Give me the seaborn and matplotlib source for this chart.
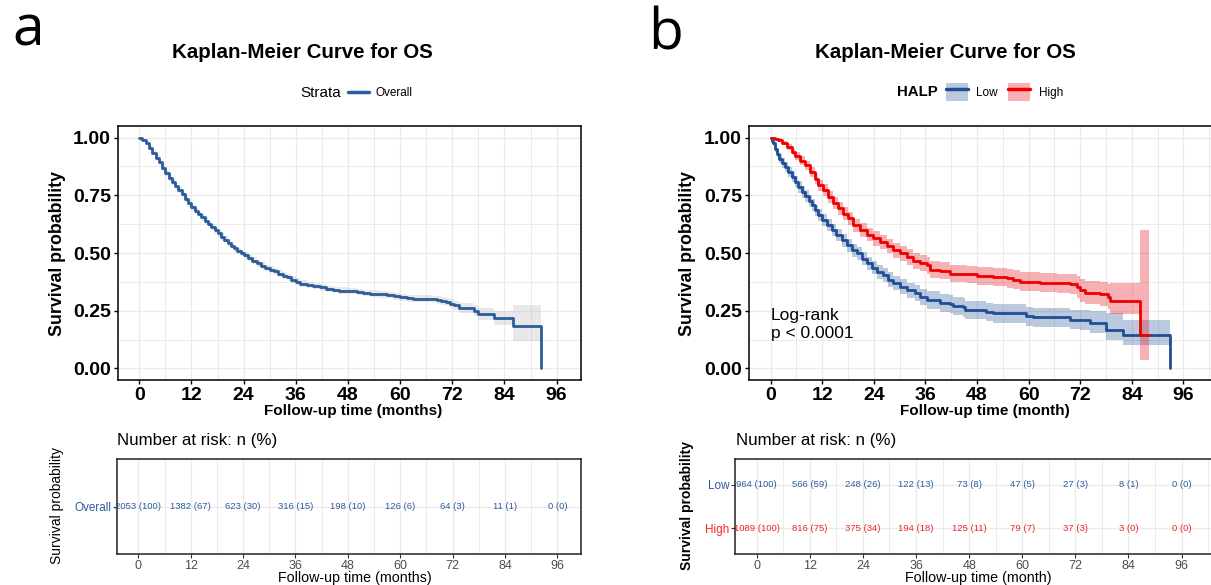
import numpy as np
import pandas as pd
import matplotlib
matplotlib.use("Agg")
import matplotlib.pyplot as plt
import seaborn as sns
from matplotlib.lines import Line2D
from matplotlib.patches import Patch
from matplotlib.legend_handler import HandlerTuple
from matplotlib.ticker import MultipleLocator

# ---------------- data ----------------
# Panel a: overall KM curve (time in months, survival, 95% CI)
a_time = [0, 0.7, 1.5, 2.3, 3.0, 3.8, 4.5, 5.3, 6.0, 6.8, 7.5, 8.3, 9.0, 9.8, 10.5, 11.3,
          12.0, 12.8, 13.5, 14.3, 15.0, 15.8, 16.5, 17.3, 18.0, 18.8, 19.5, 20.3, 21.0, 21.8,
          22.5, 23.3, 24.0, 25.0, 26.0, 27.0, 28.0, 29.0, 30.0, 31.0, 32.0, 33.0, 34.0, 35.0,
          36.0, 37.0, 38.5, 40.0, 41.5, 43.0, 44.5, 46.0, 48.0, 50.0, 51.5, 53.0, 55.0, 57.0,
          58.5, 60.0, 61.5, 63.0, 67.5, 68.5, 69.5, 70.5, 71.5, 72.5, 73.5, 77.0, 78.0, 81.5,
          86.0, 92.5]
a_surv = [1.000, 0.990, 0.975, 0.955, 0.935, 0.912, 0.892, 0.868, 0.845, 0.826, 0.808, 0.790,
          0.772, 0.755, 0.735, 0.715, 0.698, 0.683, 0.668, 0.654, 0.640, 0.626, 0.612, 0.598,
          0.585, 0.571, 0.558, 0.545, 0.532, 0.520, 0.509, 0.499, 0.490, 0.478, 0.467, 0.455,
          0.445, 0.436, 0.428, 0.420, 0.411, 0.402, 0.394, 0.385, 0.376, 0.367, 0.362, 0.357,
          0.351, 0.345, 0.340, 0.337, 0.335, 0.332, 0.327, 0.324, 0.321, 0.317, 0.313, 0.308,
          0.304, 0.301, 0.299, 0.296, 0.292, 0.287, 0.281, 0.274, 0.262, 0.250, 0.237, 0.219,
          0.183, 0.000]
a_lower = [1.000, 0.986, 0.968, 0.946, 0.925, 0.901, 0.880, 0.856, 0.832, 0.813, 0.795, 0.777,
           0.758, 0.741, 0.721, 0.701, 0.684, 0.669, 0.654, 0.640, 0.626, 0.612, 0.598, 0.584,
           0.571, 0.557, 0.544, 0.531, 0.518, 0.506, 0.495, 0.485, 0.476, 0.464, 0.453, 0.441,
           0.431, 0.422, 0.414, 0.406, 0.397, 0.388, 0.380, 0.371, 0.362, 0.353, 0.348, 0.343,
           0.337, 0.331, 0.326, 0.323, 0.321, 0.318, 0.313, 0.310, 0.307, 0.303, 0.298, 0.293,
           0.289, 0.286, 0.283, 0.280, 0.275, 0.269, 0.262, 0.254, 0.240, 0.226, 0.212, 0.190,
           0.120, 0.120]
a_upper = [1.000, 0.994, 0.982, 0.964, 0.945, 0.923, 0.904, 0.880, 0.858, 0.839, 0.821, 0.803,
           0.786, 0.769, 0.749, 0.729, 0.712, 0.697, 0.682, 0.668, 0.654, 0.640, 0.626, 0.612,
           0.599, 0.585, 0.572, 0.559, 0.546, 0.534, 0.523, 0.513, 0.504, 0.492, 0.481, 0.469,
           0.459, 0.450, 0.442, 0.434, 0.425, 0.416, 0.408, 0.399, 0.390, 0.381, 0.376, 0.371,
           0.365, 0.359, 0.354, 0.351, 0.349, 0.346, 0.341, 0.338, 0.335, 0.331, 0.328, 0.323,
           0.319, 0.316, 0.315, 0.312, 0.309, 0.305, 0.300, 0.294, 0.284, 0.274, 0.262, 0.248,
           0.274, 0.274]

# Panel b: HALP Low
low_time = [0, 0.2, 0.6, 1.0, 1.4, 2.0, 2.6, 3.3, 4.1, 4.9, 5.7, 6.4, 7.2, 8.0, 8.8, 9.5,
            10.3, 11.1, 11.9, 13.0, 14.2, 15.3, 16.5, 17.7, 18.8, 20.0, 21.2, 22.3, 23.5, 24.7,
            26.2, 27.4, 28.5, 30.0, 31.6, 33.6, 34.7, 36.3, 39.4, 41.7, 42.5, 44.8, 45.2, 50.2,
            51.8, 59.5, 61.0, 69.6, 72.0, 74.3, 78.1, 82.0, 92.9]
low_surv = [1.000, 0.986, 0.975, 0.952, 0.930, 0.909, 0.890, 0.873, 0.851, 0.830, 0.808, 0.786,
            0.765, 0.746, 0.726, 0.707, 0.685, 0.664, 0.642, 0.620, 0.599, 0.577, 0.556, 0.534,
            0.512, 0.498, 0.476, 0.455, 0.437, 0.418, 0.404, 0.385, 0.371, 0.354, 0.339, 0.328,
            0.310, 0.296, 0.284, 0.277, 0.270, 0.264, 0.253, 0.245, 0.238, 0.227, 0.221, 0.212,
            0.209, 0.195, 0.166, 0.144, 0.000]
low_lower = [1.000, 0.978, 0.965, 0.939, 0.914, 0.891, 0.870, 0.852, 0.829, 0.807, 0.784, 0.762,
             0.740, 0.721, 0.701, 0.682, 0.660, 0.638, 0.616, 0.594, 0.572, 0.550, 0.528, 0.506,
             0.484, 0.469, 0.447, 0.426, 0.407, 0.388, 0.373, 0.354, 0.340, 0.322, 0.306, 0.293,
             0.274, 0.258, 0.245, 0.238, 0.231, 0.225, 0.214, 0.205, 0.198, 0.186, 0.180, 0.171,
             0.166, 0.152, 0.122, 0.100, 0.100]
low_upper = [1.000, 0.994, 0.985, 0.965, 0.946, 0.927, 0.910, 0.894, 0.873, 0.853, 0.832, 0.810,
             0.790, 0.771, 0.751, 0.732, 0.710, 0.690, 0.668, 0.646, 0.626, 0.604, 0.584, 0.562,
             0.540, 0.527, 0.505, 0.484, 0.467, 0.448, 0.435, 0.416, 0.402, 0.386, 0.372, 0.363,
             0.346, 0.334, 0.323, 0.316, 0.309, 0.303, 0.292, 0.285, 0.278, 0.268, 0.262, 0.253,
             0.252, 0.250, 0.238, 0.212, 0.212]

# Panel b: HALP High
high_time = [0, 1.0, 1.8, 2.6, 3.7, 4.9, 5.7, 6.8, 8.0, 9.1, 10.3, 11.1, 12.2, 13.4, 14.6,
             15.7, 16.9, 18.0, 19.2, 20.8, 22.3, 23.9, 25.4, 27.0, 28.5, 30.0, 31.6, 33.2, 34.7,
             36.3, 37.0, 39.4, 41.7, 45.6, 48.0, 51.8, 54.9, 56.4, 58.0, 62.6, 66.5, 69.6, 71.2,
             72.0, 73.1, 76.6, 78.5, 79.0, 86.0, 87.9]
high_surv = [1.000, 0.995, 0.990, 0.977, 0.960, 0.938, 0.920, 0.900, 0.880, 0.850, 0.820, 0.794,
             0.772, 0.743, 0.717, 0.693, 0.671, 0.650, 0.620, 0.599, 0.580, 0.563, 0.548, 0.530,
             0.512, 0.498, 0.483, 0.466, 0.455, 0.447, 0.428, 0.423, 0.411, 0.407, 0.400, 0.397,
             0.390, 0.385, 0.375, 0.371, 0.368, 0.365, 0.354, 0.339, 0.328, 0.322, 0.310, 0.293,
             0.144, 0.144]
high_lower = [1.000, 0.991, 0.984, 0.968, 0.948, 0.924, 0.904, 0.882, 0.860, 0.829, 0.797, 0.770,
              0.747, 0.717, 0.690, 0.665, 0.643, 0.621, 0.591, 0.569, 0.550, 0.532, 0.516, 0.498,
              0.479, 0.465, 0.449, 0.432, 0.420, 0.411, 0.391, 0.386, 0.373, 0.369, 0.361, 0.358,
              0.350, 0.345, 0.334, 0.329, 0.325, 0.321, 0.307, 0.289, 0.278, 0.271, 0.257, 0.235,
              0.036, 0.036]
high_upper = [1.000, 0.999, 0.996, 0.986, 0.972, 0.952, 0.936, 0.918, 0.900, 0.871, 0.843, 0.818,
              0.797, 0.769, 0.744, 0.721, 0.699, 0.679, 0.649, 0.629, 0.610, 0.594, 0.580, 0.562,
              0.545, 0.531, 0.517, 0.500, 0.490, 0.483, 0.465, 0.460, 0.449, 0.445, 0.439, 0.436,
              0.430, 0.425, 0.416, 0.413, 0.411, 0.409, 0.401, 0.389, 0.380, 0.375, 0.366, 0.368,
              0.598, 0.598]

# Risk tables
risk_times = [0, 12, 24, 36, 48, 60, 72, 84, 96]
overall_n = [2053, 1382, 623, 316, 198, 126, 64, 11, 0]
overall_pct = [100, 67, 30, 15, 10, 6, 3, 1, 0]
low_n = [964, 566, 248, 122, 73, 47, 27, 8, 0]
low_pct = [100, 59, 26, 13, 8, 5, 3, 1, 0]
high_n = [1089, 816, 375, 194, 125, 79, 37, 3, 0]
high_pct = [100, 75, 34, 18, 11, 7, 3, 0, 0]

x_ticks = [0, 12, 24, 36, 48, 60, 72, 84, 96]
y_ticks = [0.0, 0.25, 0.5, 0.75, 1.0]
y_ticklabels = ["0.00", "0.25", "0.50", "0.75", "1.00"]

# ---------------- style ----------------
sns.set_theme(style="white")
plt.rcParams['font.family'] = ['Liberation Sans', 'DejaVu Sans']
plt.rcParams['text.color'] = 'black'

C_A = '#2B5C9B'
C_LOW = '#1F4E94'
C_HIGH = '#EE0000'
T_BLUE = '#2F5C9E'
T_RED = '#F0252B'
GRID = '#EBEBEB'

W, H = 1211, 585
fig = plt.figure(figsize=(W / 100, H / 100), dpi=100)


def rect(l, t, r, b):
    return [l / W, 1 - b / H, (r - l) / W, (b - t) / H]


def fx(x):
    return x / W


def fy(y):
    return 1 - y / H


def style_main(ax, xlim):
    ax.set_xlim(*xlim)
    ax.set_ylim(-0.05, 1.05)
    ax.set_xticks(x_ticks)
    ax.set_yticks(y_ticks)
    ax.set_yticklabels(y_ticklabels)
    ax.xaxis.set_minor_locator(MultipleLocator(6))
    ax.yaxis.set_minor_locator(MultipleLocator(0.125))
    ax.grid(which='major', color=GRID, lw=1.0)
    ax.grid(which='minor', color=GRID, lw=0.7)
    ax.set_axisbelow(True)
    for s in ax.spines.values():
        s.set_color('black')
        s.set_linewidth(1.1)
    ax.tick_params(which='major', axis='both', length=3, width=1, color='black',
                   labelsize=14, pad=2, labelcolor='black', bottom=True, left=True)
    ax.tick_params(which='minor', length=0)
    for lab in ax.get_xticklabels() + ax.get_yticklabels():
        lab.set_fontweight('bold')
    ax.set_xlabel('')
    ax.set_ylabel('')


def style_risk(ax, xlim, ylim):
    ax.set_xlim(*xlim)
    ax.set_ylim(*ylim)
    ax.set_xticks(x_ticks)
    ax.xaxis.set_minor_locator(MultipleLocator(6))
    ax.grid(which='major', color=GRID, lw=1.0)
    ax.grid(which='minor', axis='x', color=GRID, lw=0.7)
    ax.set_axisbelow(True)
    for s in ax.spines.values():
        s.set_color('#222222')
        s.set_linewidth(1.1)
    ax.tick_params(which='major', axis='both', length=3, width=0.8, color='#333333',
                   labelsize=9, pad=1, labelcolor='#4D4D4D', bottom=True, left=True)
    ax.tick_params(which='minor', length=0)
    ax.set_xlabel('')
    ax.set_ylabel('')


# ================= Panel a =================
ax_a = fig.add_axes(rect(118, 126, 581, 380))
ax_a.fill_between(a_time, a_lower, a_upper, step='post', color='#B3B3B3', alpha=0.3, lw=0)
df_a = pd.DataFrame({'time': a_time, 'surv': a_surv})
sns.lineplot(data=df_a, x='time', y='surv', ax=ax_a, color=C_A, lw=2.0,
             drawstyle='steps-post', estimator=None, sort=False)
style_main(ax_a, (-4.9, 101.6))

fig.text(fx(57), fy(253), 'Survival probability', rotation=90, ha='center', va='center',
         fontsize=12.8, fontweight='bold')
fig.text(fx(353), fy(411), 'Follow-up time (months)', ha='center', va='center',
         fontsize=11, fontweight='bold')
fig.text(fx(302), fy(52), 'Kaplan-Meier Curve for OS', ha='center', va='center',
         fontsize=14.8, fontweight='bold')
fig.text(fx(12), fy(45), 'a', ha='left', va='baseline', fontsize=41, family='Open Sans')

fig.text(fx(300), fy(93), 'Strata', ha='left', va='center', fontsize=11)
ax_a.legend(handles=[Line2D([], [], color=C_A, lw=2.5)], labels=['Overall'],
            loc='center left', bbox_to_anchor=(fx(348), fy(93)), bbox_transform=fig.transFigure,
            frameon=False, fontsize=8.5, handlelength=1.76, handletextpad=0.55,
            borderpad=0, borderaxespad=0)

# risk table a
ax_ra = fig.add_axes(rect(117, 459, 581, 554))
for t, n, p in zip(risk_times, overall_n, overall_pct):
    ax_ra.text(t, 1, f'{n} ({p})', ha='center', va='center', fontsize=6.8, color=T_BLUE)
style_risk(ax_ra, (-4.88, 101.4), (0.4, 1.6))
ax_ra.set_yticks([1])
ax_ra.set_yticklabels(['Overall'])
for lab in ax_ra.get_yticklabels():
    lab.set_color(T_BLUE)
    lab.set_fontsize(8.5)
fig.text(fx(117), fy(440), 'Number at risk: n (%)', ha='left', va='center', fontsize=12.2)
fig.text(fx(57), fy(506), 'Survival probability', rotation=90, ha='center', va='center',
         fontsize=10)
fig.text(fx(355), fy(585), 'Follow-up time (months)', ha='center', va='bottom', fontsize=10.3)

# ================= Panel b =================
ax_b = fig.add_axes(rect(749, 126, 1213, 380))
ax_b.fill_between(low_time, low_lower, low_upper, step='post', color=C_LOW, alpha=0.3, lw=0)
ax_b.fill_between(high_time, high_lower, high_upper, step='post', color='#E8141C', alpha=0.33, lw=0)
df_b = pd.concat([
    pd.DataFrame({'time': low_time, 'surv': low_surv, 'HALP': 'Low'}),
    pd.DataFrame({'time': high_time, 'surv': high_surv, 'HALP': 'High'}),
], ignore_index=True)
sns.lineplot(data=df_b, x='time', y='surv', hue='HALP', palette={'Low': C_LOW, 'High': C_HIGH},
             ax=ax_b, lw=2.0, drawstyle='steps-post', estimator=None, sort=False, legend=False)
style_main(ax_b, (-5.05, 102.9))
ax_b.text(0, 0.23, 'Log-rank', ha='left', va='center', fontsize=12.5, color='black')
ax_b.text(0, 0.15, 'p < 0.0001', ha='left', va='center', fontsize=12.5, color='black')

fig.text(fx(688), fy(253), 'Survival probability', rotation=90, ha='center', va='center',
         fontsize=12.8, fontweight='bold')
fig.text(fx(985), fy(411), 'Follow-up time (month)', ha='center', va='center',
         fontsize=11, fontweight='bold')
fig.text(fx(945), fy(52), 'Kaplan-Meier Curve for OS', ha='center', va='center',
         fontsize=14.8, fontweight='bold')
fig.text(fx(648), fy(49), 'b', ha='left', va='baseline', fontsize=41, family='Open Sans')

fig.text(fx(897), fy(92), 'HALP', ha='left', va='center', fontsize=10.8, fontweight='bold')
h_low = (Patch(facecolor=C_LOW, alpha=0.3, lw=0), Line2D([], [], color=C_LOW, lw=2.5))
h_high = (Patch(facecolor='#E8141C', alpha=0.33, lw=0), Line2D([], [], color=C_HIGH, lw=2.5))
ax_b.legend(handles=[h_low, h_high], labels=['Low', 'High'], ncol=2,
            handler_map={tuple: HandlerTuple(ndivide=1, pad=0)},
            loc='center left', bbox_to_anchor=(fx(946), fy(92)), bbox_transform=fig.transFigure,
            frameon=False, fontsize=8.5, handlelength=1.86, handleheight=1.94, handletextpad=0.7,
            columnspacing=0.9, borderpad=0, borderaxespad=0)

# risk table b
ax_rb = fig.add_axes(rect(735, 459, 1213, 554))
for t, n, p in zip(risk_times, low_n, low_pct):
    ax_rb.text(t, 1, f'{n} ({p})', ha='center', va='center', fontsize=6.8, color=T_BLUE)
for t, n, p in zip(risk_times, high_n, high_pct):
    ax_rb.text(t, 2, f'{n} ({p})', ha='center', va='center', fontsize=6.8, color=T_RED)
style_risk(ax_rb, (-4.9, 103.1), (2.6, 0.4))
ax_rb.set_yticks([1, 2])
ax_rb.set_yticklabels(['Low', 'High'])
for lab, c in zip(ax_rb.get_yticklabels(), [T_BLUE, T_RED]):
    lab.set_color(c)
    lab.set_fontsize(8.5)
fig.text(fx(736), fy(440), 'Number at risk: n (%)', ha='left', va='center', fontsize=12.2)
fig.text(fx(687), fy(506), 'Survival probability', rotation=90, ha='center', va='center',
         fontsize=10, fontweight='bold')
fig.text(fx(978), fy(585), 'Follow-up time (month)', ha='center', va='bottom', fontsize=10.3)

fig.savefig('out.png', dpi=100)
